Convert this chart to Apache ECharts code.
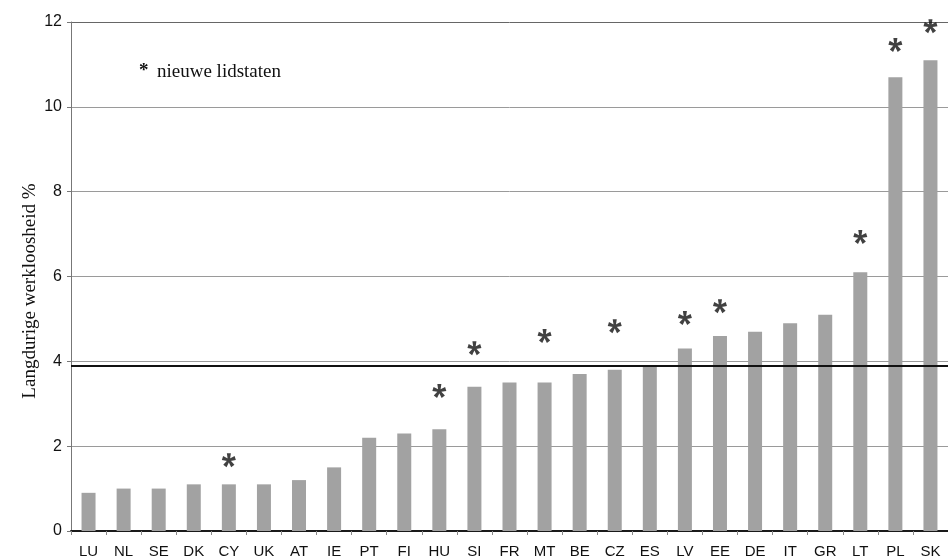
<!DOCTYPE html>
<html>
<head>
<meta charset="utf-8">
<script src="https://cdn.jsdelivr.net/npm/echarts@6/dist/echarts.min.js"></script>
<style>
  html, body { margin: 0; padding: 0; background: #fff; }
  #chart { width: 948px; height: 560px; }
</style>
</head>
<body>
<div id="chart"></div>
<script>
// Long-term unemployment (%) per EU member state, sorted ascending
const categories = ['LU','NL','SE','DK','CY','UK','AT','IE','PT','FI','HU','SI','FR','MT','BE','CZ','ES','LV','EE','DE','IT','GR','LT','PL','SK'];
const unemployment = [0.9,1.0,1.0,1.1,1.1,1.1,1.2,1.5,2.2,2.3,2.4,3.4,3.5,3.5,3.7,3.8,3.9,4.3,4.6,4.7,4.9,5.1,6.1,10.7,11.1];
// EU average
const euAverage = 3.9;
// New member states and the height at which their asterisk sits
const newMembers = ['CY','HU','SI','MT','CZ','LV','EE','LT','PL','SK'];
const starHeights = [1.67,3.30,4.31,4.60,4.83,5.02,5.30,6.93,11.46,11.90];
const yTicks = [0, 2, 4, 6, 8, 10, 12];

// bold five-armed asterisk outline used as the marker symbol
function asteriskPath() {
  let d = '';
  const w = 0.3;
  for (let i = 0; i < 5; i++) {
    const a = (-90 + 72 * i) * Math.PI / 180;
    const p = a + Math.PI / 2;
    const cx = Math.cos(a), cy = Math.sin(a);
    const px = Math.cos(p), py = Math.sin(p);
    const pts = [
      [w * 0.5 * px, w * 0.5 * py],
      [cx + w * px, cy + w * py],
      [cx - w * px, cy - w * py],
      [-w * 0.5 * px, -w * 0.5 * py]
    ];
    d += 'M' + pts.map(q => (q[0] * 50 + 50).toFixed(2) + ' ' + (q[1] * 50 + 50).toFixed(2)).join(' L') + ' Z ';
  }
  return 'path://' + d;
}

const chart = echarts.init(document.getElementById('chart'), null, { renderer: 'canvas' });

chart.setOption({
  animation: false,
  backgroundColor: '#ffffff',
  grid: { left: 71, top: 22, width: 882, height: 509, containLabel: false },
  xAxis: {
    type: 'category',
    data: categories,
    axisLine: { lineStyle: { color: '#1a1a1a', width: 2 } },
    axisTick: { show: true, alignWithLabel: false, length: 4, lineStyle: { color: '#888' } },
    axisLabel: {
      color: '#111', fontFamily: 'Liberation Sans', fontSize: 15, margin: 13, interval: 0
    },
    splitLine: { show: false }
  },
  yAxis: {
    type: 'value',
    min: 0, max: 12, interval: 2,
    axisLine: { show: true, lineStyle: { color: '#777', width: 1 } },
    axisTick: { show: true, length: 4, inside: false, lineStyle: { color: '#777' } },
    axisLabel: {
      color: '#111', fontFamily: 'Liberation Sans', fontSize: 16, margin: 9,
      formatter: v => yTicks.includes(v) ? String(v) : ''
    },
    splitLine: {
      show: true,
      lineStyle: { color: ['#9a9a9a', '#9a9a9a', '#9a9a9a', '#9a9a9a', '#9a9a9a', '#9a9a9a', '#666'], width: 1 }
    }
  },
  series: [
    {
      type: 'bar',
      data: unemployment,
      barWidth: 14,
      itemStyle: { color: '#a2a2a2' },
      markLine: {
        silent: true,
        symbol: 'none',
        label: { show: false },
        lineStyle: { color: '#111', width: 2, type: 'solid' },
        data: [{ yAxis: euAverage }]
      },
      z: 2
    },
    {
      type: 'scatter',
      data: newMembers.map((c, i) => [c, starHeights[i]]),
      symbol: asteriskPath(),
      symbolSize: 14,
      itemStyle: { color: '#111' },
      z: 3
    }
  ],
  graphic: [
    {
      type: 'text',
      left: 139, top: 62,
      style: { text: '*', fontFamily: 'Liberation Serif', fontSize: 19, fontWeight: 'bold', fill: '#111' }
    },
    {
      type: 'text',
      left: 157, top: 63,
      style: { text: 'nieuwe lidstaten', fontFamily: 'Liberation Serif', fontSize: 19, fill: '#111' }
    },
    {
      type: 'text',
      x: 30, y: 291,
      rotation: Math.PI / 2,
      style: {
        text: 'Langdurige werkloosheid %', fontFamily: 'Liberation Serif', fontSize: 19,
        fill: '#111', align: 'center', verticalAlign: 'middle'
      }
    }
  ]
});
</script>
</body>
</html>
